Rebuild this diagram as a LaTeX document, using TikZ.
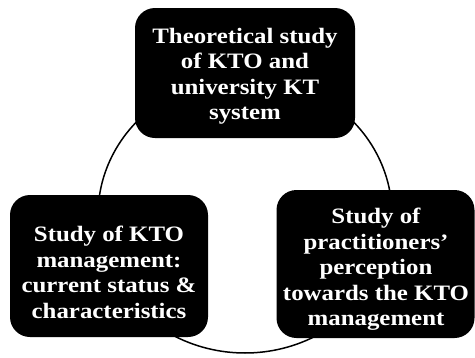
\documentclass[tikz,border=0pt]{standalone}
\usepackage{fontspec}
\newfontfamily\boxfont[FakeStretch=1.13]{Liberation Serif}
\usetikzlibrary{backgrounds}
\begin{document}
\begin{tikzpicture}[x=1pt,y=1pt,
  stage/.style={fill=black, rounded corners=20pt, inner sep=0pt},
  caption/.style={text=white, align=center, inner sep=0pt,
    font=\boxfont\bfseries\fontsize{22}{25.5}\selectfont},
  link/.style={draw=black, line width=1.5pt}]
\useasboundingbox (0,0) rectangle (475,-357);

% the three stages
\node[stage, minimum width=220pt, minimum height=130pt] (topbox) at (245,-73) {};
\node[stage, minimum width=198pt, minimum height=142pt] (leftbox) at (109,-266) {};
\node[stage, minimum width=198pt, minimum height=148pt] (rightbox) at (375.5,-264) {};

\node[caption] (toptext) at (245,-76)
  {Theoretical study\\of KTO and\\university KT\\system};
\node[caption] (lefttext) at (109,-272.5)
  {Study of KTO\\management:\\current status \&\\characteristics};
\node[caption] (righttext) at (376,-269.5)
  {Study of\\practitioners’\\perception\\towards the KTO\\management};

% cycle: elliptical arcs running behind the boxes
\coordinate (hub) at (245,-215);
\coordinate (topR)   at ([shift={(55:147pt and 138pt)}]hub);
\coordinate (rightB) at ([shift={(-60:147pt and 138pt)}]hub);
\coordinate (leftT)  at ([shift={(185:147pt and 138pt)}]hub);
\begin{scope}[on background layer]
  \draw[link] (topR) arc[start angle=55, end angle=-5, x radius=147pt, y radius=138pt];
  \draw[link] (rightB) arc[start angle=-60, end angle=-120, x radius=147pt, y radius=138pt];
  \draw[link] (leftT) arc[start angle=185, end angle=125, x radius=147pt, y radius=138pt];
\end{scope}
\end{tikzpicture}
\end{document}
